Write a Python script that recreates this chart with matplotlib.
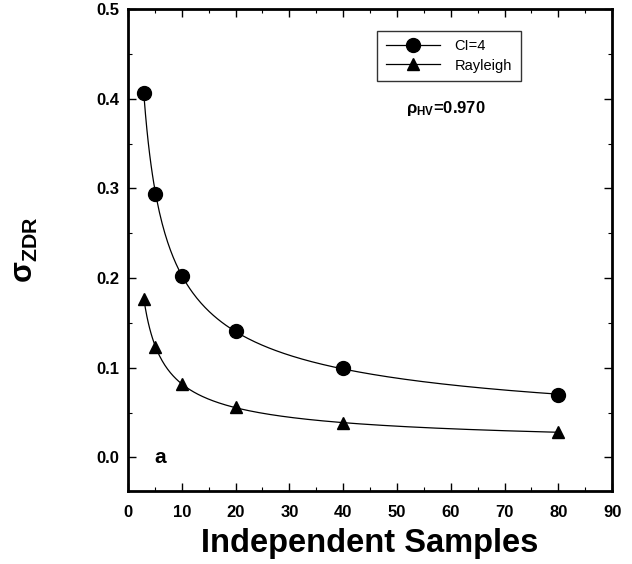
import numpy as np
import matplotlib
matplotlib.use("Agg")
import matplotlib.pyplot as plt
from matplotlib.ticker import MultipleLocator

plt.rcParams['font.family'] = ['Liberation Sans', 'DejaVu Sans']
plt.rcParams['mathtext.fontset'] = 'custom'
plt.rcParams['mathtext.rm'] = 'Liberation Sans'
plt.rcParams['mathtext.it'] = 'Liberation Sans'
plt.rcParams['mathtext.bf'] = 'Liberation Sans:bold'

samples = [3, 5, 10, 20, 40, 80]
ci4 = [0.406, 0.294, 0.202, 0.141, 0.100, 0.070]
rayleigh = [0.177, 0.123, 0.082, 0.056, 0.039, 0.028]

fig = plt.figure(figsize=(6.32, 5.64), dpi=100)
ax = fig.add_axes([0.2025, 0.130, 0.766, 0.854])

def fit_curve(x, y):
    lx, ly = np.log(x), np.log(y)
    p = np.polyfit(lx, ly, 2)
    xs = np.linspace(min(x), max(x), 300)
    return xs, np.exp(np.polyval(p, np.log(xs)))

for vals, mk, ms in [(ci4, 'o', 10), (rayleigh, '^', 9)]:
    xs, ys = fit_curve(samples, vals)
    ax.plot(xs, ys, color='black', lw=0.9)
    ax.plot(samples, vals, linestyle='none', marker=mk, ms=ms, color='black')

# legend proxies
h1, = ax.plot([], [], color='black', lw=0.9, marker='o', ms=10)
h2, = ax.plot([], [], color='black', lw=0.9, marker='^', ms=9)
leg = ax.legend([h1, h2], ['CI=4', 'Rayleigh'], loc='upper left',
                bbox_to_anchor=(0.515, 0.955), frameon=True, fancybox=False,
                edgecolor='black', fontsize=10.5, handlelength=3.7,
                borderpad=0.6, labelspacing=0.35, handletextpad=1.0,
                borderaxespad=0)
leg.get_frame().set_linewidth(1.0)

ax.text(0.575, 0.785, r'$\mathbf{\rho}_{\mathbf{HV}}$=0.970', transform=ax.transAxes,
        fontsize=12, fontweight='bold')
ax.text(6, 0.0, 'a', fontsize=15, fontweight='bold', va='center', ha='center')

ax.set_xlim(0, 90)
ax.set_ylim(-0.037, 0.5)
ax.xaxis.set_major_locator(MultipleLocator(10))
ax.xaxis.set_minor_locator(MultipleLocator(5))
ax.yaxis.set_major_locator(MultipleLocator(0.1))
ax.yaxis.set_minor_locator(MultipleLocator(0.05))
ax.yaxis.set_major_formatter(matplotlib.ticker.FormatStrFormatter('%.1f'))
ax.tick_params(which='both', direction='in', top=True, right=True)
ax.tick_params(which='major', length=6, width=1, labelsize=12)
ax.tick_params(axis='x', which='major', pad=10)
ax.tick_params(axis='y', which='major', pad=6)
ax.tick_params(which='minor', length=3, width=0.8)
for lbl in ax.get_xticklabels() + ax.get_yticklabels():
    lbl.set_fontweight('bold')
for s in ax.spines.values():
    s.set_linewidth(2)

ax.set_xlabel('Independent Samples', fontsize=23.5, fontweight='bold', labelpad=6)
fig.text(0.040, 0.557, r'$\mathbf{\sigma}_{\mathbf{ZDR}}$', rotation=90, fontsize=22,
         ha='center', va='center')

fig.savefig('out.png', dpi=100)
